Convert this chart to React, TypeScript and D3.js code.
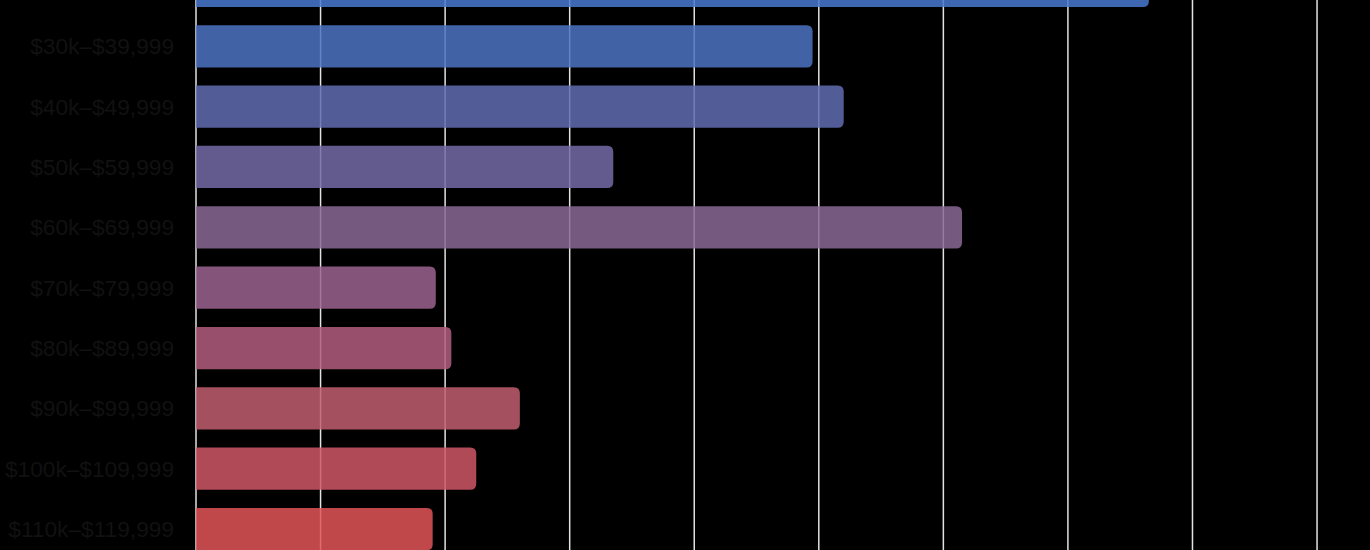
import React from "react";
import * as d3 from "d3";

// Salary bands (top to bottom) and their share values
const categories = [
  "$20k–$29,999",
  "$30k–$39,999",
  "$40k–$49,999",
  "$50k–$59,999",
  "$60k–$69,999",
  "$70k–$79,999",
  "$80k–$89,999",
  "$90k–$99,999",
  "$100k–$109,999",
  "$110k–$119,999",
];
const values = [15.3, 9.9, 10.4, 6.7, 12.3, 3.85, 4.1, 5.2, 4.5, 3.8];
const barColors = [
  "#4879d0",
  "#4e73c3",
  "#606cb0",
  "#746aa7",
  "#8a6895",
  "#9c6390",
  "#b25d7f",
  "#c15e6f",
  "#cf5765",
  "#e25558",
];
const gridTicks = [0, 2, 4, 6, 8, 10, 12, 14, 16, 18];

const W = 1370;
const H = 550;

function barPath(x0: number, y0: number, w: number, h: number, r: number) {
  const rr = Math.min(r, w / 2, h / 2);
  return `M${x0},${y0}H${x0 + w - rr}Q${x0 + w},${y0} ${x0 + w},${y0 + rr}V${y0 + h - rr}Q${x0 + w},${y0 + h} ${x0 + w - rr},${y0 + h}H${x0}Z`;
}

export default function App() {
  const x = d3.scaleLinear().domain([0, 18]).range([196, 196 + 9 * 124.56]);
  const y = d3
    .scaleBand<string>()
    .domain(categories)
    .range([-44.2, 559.2])
    .paddingInner(0.3)
    .paddingOuter(0.15);

  return (
    <div style={{ position: "fixed", left: 0, top: 0, width: W, height: H, background: "#000" }}>
      <svg width={W} height={H} style={{ display: "block" }}>
        <rect width={W} height={H} fill="#000" />
        {gridTicks.map((t) => (
          <line
            key={t}
            x1={x(t)}
            x2={x(t)}
            y1={0}
            y2={H}
            stroke="#e2e2e2"
            strokeWidth={1.5}
          />
        ))}
        {categories.map((c, i) => (
          <path
            key={c}
            d={barPath(x(0), y(c)!, x(values[i]) - x(0), y.bandwidth(), 6)}
            fill={barColors[i]}
            fillOpacity={0.85}
          />
        ))}
        {categories.map((c) => (
          <text
            key={c}
            x={174}
            y={y(c)! + y.bandwidth() / 2}
            textAnchor="end"
            dominantBaseline="central"
            fontFamily="'Liberation Sans', Arial, sans-serif"
            fontSize={22.7}
            fill="#111111"
          >
            {c}
          </text>
        ))}
      </svg>
    </div>
  );
}
